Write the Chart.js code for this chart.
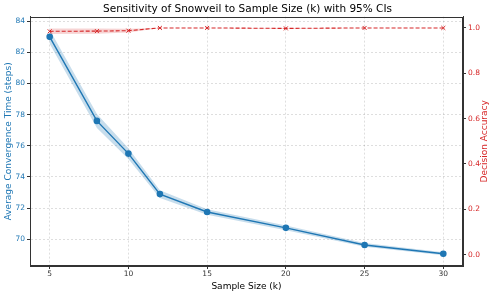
<!DOCTYPE html>
<html>
<head>
<meta charset="utf-8">
<script src="https://cdn.jsdelivr.net/npm/chart.js@4"></script>
<style>
  html, body { margin: 0; padding: 0; background: #fff; }
  #wrap { width: 495px; height: 295px; }
</style>
</head>
<body>
<div id="wrap"><canvas id="graphi" width="495" height="295"></canvas></div>
<script>
// datos
const sampleSizes = [5, 8, 10, 12, 15, 20, 25, 30];
const convTime = [83.0, 77.6, 75.5, 72.9, 71.75, 70.73, 69.63, 69.07];
const convCI = [0.45, 0.45, 0.35, 0.25, 0.18, 0.15, 0.12, 0.1];
const accuracy = [0.985, 0.986, 0.988, 1.0, 1.0, 0.998, 1.0, 1.0];
const accCI = [0.012, 0.012, 0.008, 0.0, 0.0, 0.002, 0.0, 0.0];
const xTicks = [5, 10, 15, 20, 25, 30];
const leftTicks = [70, 72, 74, 76, 78, 80, 82, 84];
const rightTicks = [0.0, 0.2, 0.4, 0.6, 0.8, 1.0];

const blue = '#1f77b4';
const red = '#d62728';
const font = 'DejaVu Sans';

const pts = (ys) => sampleSizes.map((x, i) => ({x: x, y: ys[i]}));
const band = (ys, ci, sign) => sampleSizes.map((x, i) => ({x: x, y: ys[i] + sign * ci[i]}));

// borde de todo el area + titulo del eje derecho (girado como en matplotlib)
const frame = {
  id: 'frame',
  afterDatasetsDraw(chart) {
    const a = chart.chartArea, c = chart.ctx;
    c.save();
    c.strokeStyle = '#333';
    c.lineWidth = 1;
    c.strokeRect(Math.round(a.left) + 0.5, Math.round(a.top) + 0.5,
      Math.round(a.right - a.left) - 1, Math.round(a.bottom - a.top) - 1);
    c.translate(chart.width - 10.5, (a.top + a.bottom) / 2);
    c.rotate(-Math.PI / 2);
    c.fillStyle = red;
    c.font = '9px "' + font + '"';
    c.textAlign = 'center';
    c.textBaseline = 'middle';
    c.fillText('Decision Accuracy', 0, 0);
    c.restore();
  }
};

const setTicks = (list) => (scale) => { scale.ticks = list.map(v => ({value: v})); };

const data = {
  datasets: [
    {data: pts(accuracy), yAxisID: 'y1', borderColor: red, borderWidth: 1.1, borderDash: [4, 2],
     pointStyle: 'crossRot', pointRadius: 2.8, pointBorderColor: red, pointBorderWidth: 1, fill: false, order: 0},
    {data: band(accuracy, accCI, -1), yAxisID: 'y1', borderWidth: 0, pointRadius: 0, fill: false, order: 1},
    {data: band(accuracy, accCI, 1), yAxisID: 'y1', borderWidth: 0, pointRadius: 0,
     fill: '-1', backgroundColor: 'rgba(214,39,40,0.2)', order: 1},
    {data: pts(convTime), yAxisID: 'y', borderColor: blue, borderWidth: 1.4,
     pointStyle: 'circle', pointRadius: 2.6, pointBackgroundColor: blue, pointBorderColor: blue, fill: false, order: 2},
    {data: band(convTime, convCI, -1), yAxisID: 'y', borderWidth: 0, pointRadius: 0, fill: false, order: 3},
    {data: band(convTime, convCI, 1), yAxisID: 'y', borderWidth: 0, pointRadius: 0,
     fill: '-1', backgroundColor: 'rgba(31,119,180,0.25)', order: 3}
  ]
};

const gridStyle = {color: 'rgba(0,0,0,0.13)', tickLength: 3, tickColor: '#333', tickBorderDash: [], tickWidth: 1};
const borderStyle = {display: true, color: '#333', dash: [2, 2]};

const options = {
  responsive: false,
  animation: false,
  layout: {padding: 0},
  plugins: {
    legend: {display: false},
    tooltip: {enabled: false},
    title: {display: true, text: 'Sensitivity of Snowveil to Sample Size (k) with 95% CIs',
      color: '#000', font: {family: font, size: 10.5, weight: 'normal'}, padding: {top: 3, bottom: 1}}
  },
  scales: {
    x: {
      type: 'linear', min: 3.75, max: 31.25,
      afterBuildTicks: setTicks(xTicks),
      afterFit: (s) => { s.height = 29; },
      grid: gridStyle,
      border: borderStyle,
      ticks: {color: '#333', font: {family: font, size: 7.5}, padding: 1, maxRotation: 0},
      title: {display: true, text: 'Sample Size (k)', color: '#000', font: {family: font, size: 9}, padding: {top: 0, bottom: 3}}
    },
    y: {
      position: 'left', min: 68.28, max: 84.3,
      afterBuildTicks: setTicks(leftTicks),
      afterFit: (s) => { s.width = 30; },
      grid: gridStyle,
      border: borderStyle,
      ticks: {color: blue, font: {family: font, size: 7.5}, padding: 2},
      title: {display: true, text: 'Average Convergence Time (steps)', color: blue, font: {family: font, size: 9}, padding: {top: 3, bottom: 0}}
    },
    y1: {
      position: 'right', min: -0.05, max: 1.05,
      afterBuildTicks: setTicks(rightTicks),
      afterFit: (s) => { s.width = 32; },
      grid: {drawOnChartArea: false, tickLength: 3, tickColor: '#333'},
      border: {display: true, color: '#333'},
      ticks: {color: red, font: {family: font, size: 7.5}, padding: 2, callback: (v) => v.toFixed(1)}
    }
  }
};

new Chart('graphi', {type: 'line', data, options, plugins: [frame]});
</script>
</body>
</html>
